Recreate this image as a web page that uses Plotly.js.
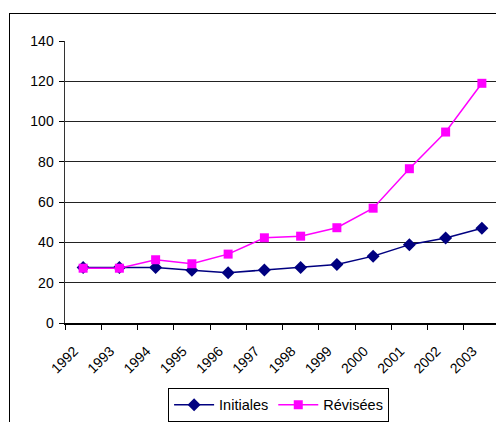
<!DOCTYPE html>
<html>
<head>
<meta charset="utf-8">
<script src="https://cdn.plot.ly/plotly-3.0.1.min.js"></script>
<style>
html,body{margin:0;padding:0;background:#fff;overflow:hidden;width:496px;height:422px;}
#chart{position:absolute;left:0;top:0;}
#frame{position:absolute;left:9px;top:13px;width:600px;height:600px;border:1.5px solid #000;pointer-events:none;}
</style>
</head>
<body>
<div id="chart"></div>
<div id="frame"></div>
<script>
const years = ['1992','1993','1994','1995','1996','1997','1998','1999','2000','2001','2002','2003'];
const initiales = [27.5, 27.5, 27.5, 26.2, 25.0, 26.3, 27.6, 29.0, 33.2, 38.9, 42.2, 47.0];
const revisees  = [27.2, 27.2, 31.4, 29.4, 34.2, 42.3, 43.1, 47.3, 57.0, 76.6, 94.8, 119.0];
const yTicks = [0, 20, 40, 60, 80, 100, 120, 140];

const font = {family: 'Liberation Sans, Arial, sans-serif', size: 14, color: '#000'};

const traces = [
  {x: years, y: initiales, name: 'Initiales', type: 'scatter', mode: 'lines+markers',
   line: {color: '#000080', width: 1.5},
   marker: {symbol: 'diamond', size: 10, color: '#000080'}},
  {x: years, y: revisees, name: 'Révisées', type: 'scatter', mode: 'lines+markers',
   line: {color: '#FF00FF', width: 1.5},
   marker: {symbol: 'square', size: 9, color: '#FF00FF'}}
];

const layout = {
  width: 500, height: 440,
  margin: {l: 65, r: 0, t: 41, b: 117, autoexpand: false},
  paper_bgcolor: 'rgba(0,0,0,0)', plot_bgcolor: '#fff',
  font: font,
  showlegend: true,
  legend: {orientation: 'h', x: 0.237, xanchor: 'left', y: -0.230, yanchor: 'top',
           bordercolor: '#000', borderwidth: 1, bgcolor: '#fff', itemwidth: 40,
           font: {family: font.family, size: 14.5, color: '#000'}},
  xaxis: {type: 'category', categoryorder: 'array', categoryarray: years,
          range: [-0.5, 11.5], tickson: 'boundaries', ticks: 'outside', ticklen: 5,
          tickcolor: '#000', tickwidth: 1, showgrid: false, showline: true,
          linecolor: '#000', linewidth: 1.5, tickangle: -45, ticklabelshift: -9,
          ticklabelstandoff: 13, tickfont: font, zeroline: false},
  yaxis: {range: [0, 140], tickvals: yTicks, ticktext: yTicks.map(String),
          ticks: 'outside', ticklen: 5, tickcolor: '#000', tickwidth: 1,
          showgrid: true, gridcolor: '#222', gridwidth: 1,
          showline: true, linecolor: '#333', linewidth: 1.5, zeroline: false,
          tickfont: font, ticklabelstandoff: 2}
};

Plotly.newPlot('chart', traces, layout, {displayModeBar: false, staticPlot: true});
</script>
</body>
</html>
